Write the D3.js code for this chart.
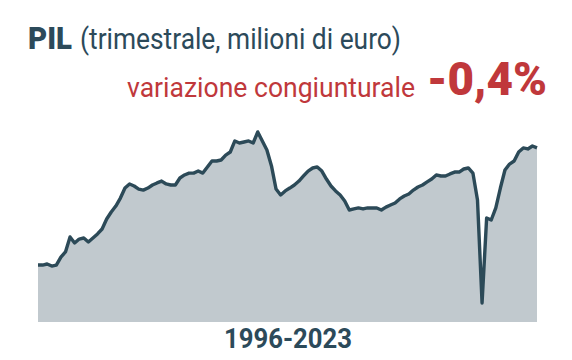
<!DOCTYPE html>
<html>
<head>
<meta charset="utf-8">
<script src="https://cdn.jsdelivr.net/npm/d3@7"></script>
<style>
  body { margin: 0; background: #fff; }
  svg { display: block; font-family: Roboto, "Noto Sans", sans-serif; }
</style>
</head>
<body>
<svg id="chart" width="572" height="360"></svg>
<script>
// PIL trimestrale (milioni di euro), 1996 T1 - 2023 T2
var startYear = 1996;
var gdp = [
  378500, 378500, 379100, 377900,
  378500, 383200, 386200, 395000,
  391500, 393800, 394400, 392100,
  394400, 396800, 399700, 405600,
  409700, 413200, 417900, 423800,
  426200, 425000, 423200, 422600,
  423800, 425600, 426800, 427900,
  426200, 425600, 425600, 429700,
  431500, 432600, 432600, 433800,
  432600, 436200, 439700, 439700,
  440300, 443200, 445000, 451500,
  450300, 450900, 451500, 450300,
  456800, 451500, 446200, 436800,
  423200, 419700, 422100, 423800,
  425600, 427900, 430900, 433800,
  435600, 436200, 433800, 429100,
  425000, 422100, 419700, 416200,
  410900, 411500, 412100, 411500,
  412100, 412100, 412100, 410900,
  412600, 413800, 415000, 417400,
  419100, 420300, 422600, 424400,
  425600, 427400, 429100, 431500,
  430900, 430900, 432100, 433200,
  433200, 435000, 435600, 432600,
  416800, 356200, 406200, 405000,
  412100, 423800, 434400, 437900,
  439700, 445000, 447400, 446800,
  448500, 447400
];
var titleBold = "PIL";
var titleRest = "(trimestrale, milioni di euro)";
var subLabel = "variazione congiunturale";
var subValue = "-0,4%";
var periodLabel = "1996-2023";

var data = gdp.map(function(v, i){
  return { t: startYear + Math.floor(i / 4) + (i % 4) / 4, v: v };
});

var svg = d3.select("#chart");

var x = d3.scaleLinear()
  .domain(d3.extent(data, function(d){ return d.t; }))
  .range([38, 537]);

var y = d3.scaleLinear()
  .domain([345000, 460000])
  .range([322, 126.5]);

var area = d3.area()
  .x(function(d){ return x(d.t); })
  .y0(y(345000))
  .y1(function(d){ return y(d.v); });

var line = d3.line()
  .x(function(d){ return x(d.t); })
  .y(function(d){ return y(d.v); });

svg.append("path")
  .datum(data)
  .attr("d", area)
  .attr("fill", "#c1c9ce");

svg.append("path")
  .datum(data)
  .attr("d", line)
  .attr("fill", "none")
  .attr("stroke", "#2c4a58")
  .attr("stroke-width", 3.4)
  .attr("stroke-linejoin", "round");

// titoli
svg.append("text")
  .attr("x", 28).attr("y", 49)
  .attr("fill", "#2c4a5a")
  .attr("font-size", 31)
  .attr("font-weight", 900)
  .attr("textLength", 44).attr("lengthAdjust", "spacingAndGlyphs")
  .text(titleBold);

svg.append("text")
  .attr("x", 80).attr("y", 49)
  .attr("fill", "#2c4a5a")
  .attr("font-size", 30)
  .attr("textLength", 321).attr("lengthAdjust", "spacingAndGlyphs")
  .text(titleRest);

svg.append("text")
  .attr("x", 127).attr("y", 97)
  .attr("fill", "#c0383b")
  .attr("font-size", 27)
  .attr("textLength", 288).attr("lengthAdjust", "spacingAndGlyphs")
  .text(subLabel);

svg.append("text")
  .attr("x", 427).attr("y", 95)
  .attr("fill", "#c0383b")
  .attr("font-size", 46)
  .attr("font-weight", 900)
  .attr("textLength", 120).attr("lengthAdjust", "spacingAndGlyphs")
  .text(subValue);

svg.append("text")
  .attr("x", 288).attr("y", 348)
  .attr("text-anchor", "middle")
  .attr("fill", "#2c4a5a")
  .attr("font-size", 27)
  .attr("font-weight", 700)
  .attr("textLength", 128).attr("lengthAdjust", "spacingAndGlyphs")
  .text(periodLabel);
</script>
</body>
</html>
